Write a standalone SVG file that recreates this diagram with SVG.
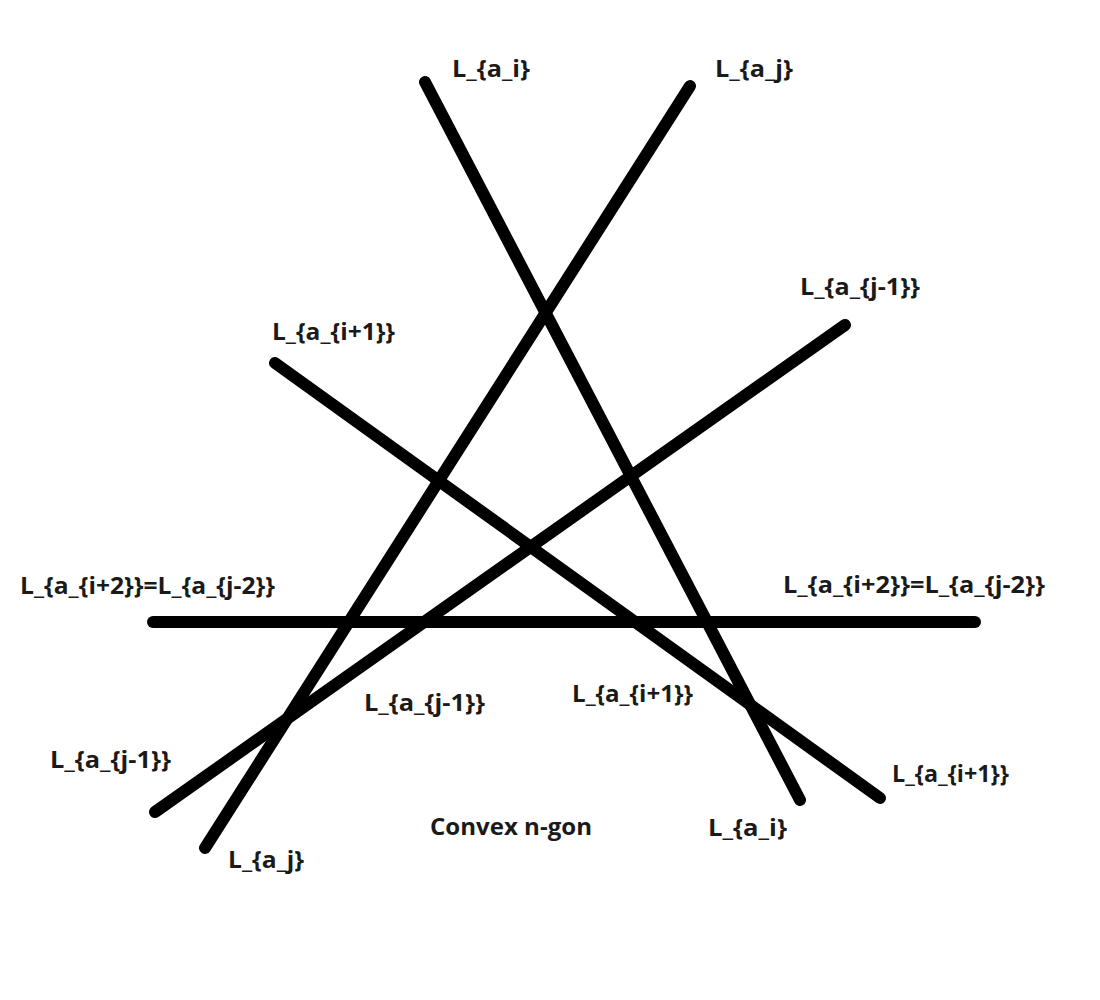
<svg xmlns="http://www.w3.org/2000/svg" width="1100" height="1000" viewBox="0 0 1100 1000">
<style>
.ln{stroke:#000;stroke-width:12;stroke-linecap:round;fill:none}
.lb{font-family:"Open Sans","Liberation Sans",sans-serif;font-weight:bold;font-size:23px;fill:#1a1a1a}
</style>
<rect width="1100" height="1000" fill="#fff"/>
<g id="connectors">
<line id="L_ai" class="ln" x1="425" y1="82" x2="800" y2="800"/>
<line id="L_aj" class="ln" x1="690" y1="86" x2="205" y2="848"/>
<line id="L_aj1" class="ln" x1="845" y1="325" x2="155" y2="812"/>
<line id="L_ai1" class="ln" x1="275" y1="363" x2="880" y2="798"/>
<line id="L_ai2" class="ln" x1="153" y1="622" x2="975" y2="622"/>
</g>
<g id="labels">
<text class="lb" x="452" y="77" textLength="78" lengthAdjust="spacingAndGlyphs">L_{a_i}</text>
<text class="lb" x="715" y="77" textLength="78" lengthAdjust="spacingAndGlyphs">L_{a_j}</text>
<text class="lb" x="800" y="295" textLength="120" lengthAdjust="spacingAndGlyphs">L_{a_{j-1}}</text>
<text class="lb" x="272" y="340" textLength="123" lengthAdjust="spacingAndGlyphs">L_{a_{i+1}}</text>
<text class="lb" x="20" y="594" textLength="255" lengthAdjust="spacingAndGlyphs">L_{a_{i+2}}=L_{a_{j-2}}</text>
<text class="lb" x="783" y="593" textLength="262" lengthAdjust="spacingAndGlyphs">L_{a_{i+2}}=L_{a_{j-2}}</text>
<text class="lb" x="364" y="711" textLength="121" lengthAdjust="spacingAndGlyphs">L_{a_{j-1}}</text>
<text class="lb" x="572" y="702" textLength="121" lengthAdjust="spacingAndGlyphs">L_{a_{i+1}}</text>
<text class="lb" x="50" y="768" textLength="121" lengthAdjust="spacingAndGlyphs">L_{a_{j-1}}</text>
<text class="lb" x="892" y="782" textLength="117" lengthAdjust="spacingAndGlyphs">L_{a_{i+1}}</text>
<text class="lb" x="430" y="835" textLength="162" lengthAdjust="spacingAndGlyphs">Convex n-gon</text>
<text class="lb" x="708" y="836" textLength="79" lengthAdjust="spacingAndGlyphs">L_{a_i}</text>
<text class="lb" x="228" y="868" textLength="76" lengthAdjust="spacingAndGlyphs">L_{a_j}</text>
</g>
</svg>
